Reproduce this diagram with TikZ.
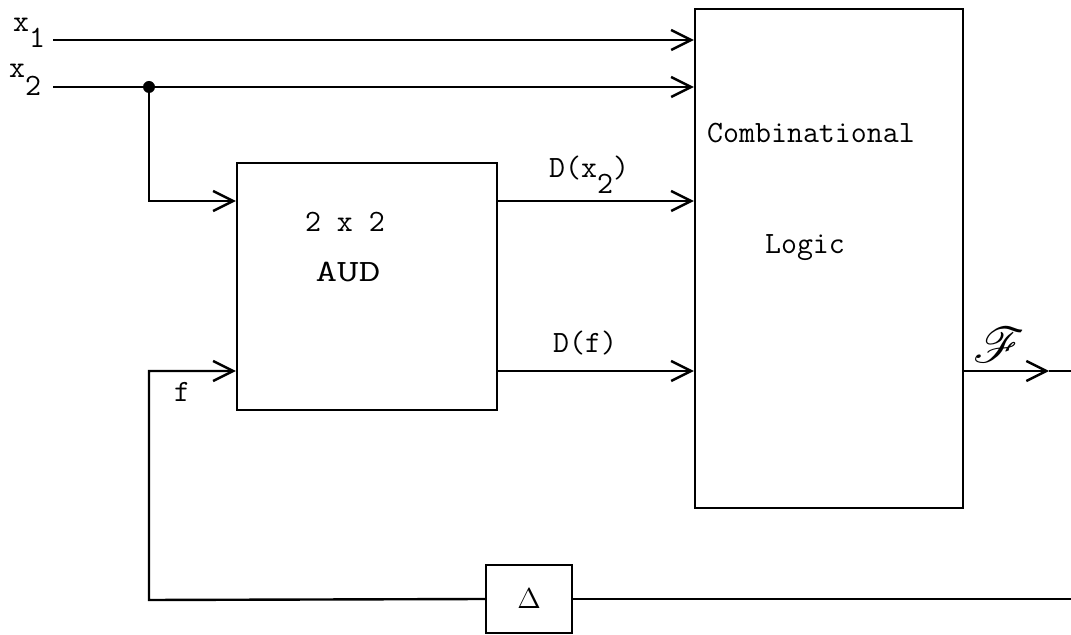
\documentclass[tikz,border=0pt]{standalone}
\usepackage{fontspec}
\usepackage{mathrsfs}
\usetikzlibrary{arrows.meta, positioning, calc}

\begin{document}
\begin{tikzpicture}[x=0.5pt, y=-0.5pt, line width=1.2pt,
  >={Straight Barb[length=10pt,width=10pt]},
  font=\ttfamily\fontsize{15.5}{18}\selectfont,
  blok/.style={draw, rectangle, inner sep=0pt},
  popis/.style={inner sep=0pt}]
  \useasboundingbox (0,0) rectangle (1071,635);

  % Kombinacni logika
  \node[blok, minimum width=134pt, minimum height=249.5pt] (logic) at (829,258.5) {};
  \node[popis] (comb) at (811,133) {Combinational};
  \node[popis] (logictxt) at (805,248) {Logic};

  % AUD
  \node[blok, minimum width=130pt, minimum height=123.5pt] (aud) at (367,286.5) {};
  \node[popis] (audsize) at (345,222) {2 x 2};
  \node[popis] (audtxt) at (348,272) {\scalebox{1.35}[1]{AUD}};

  % Zpozdeni
  \node[blok, minimum width=43pt, minimum height=34pt] (delay) at (529,599) {$\Delta$};

  % Vstupy
  \node[popis, anchor=base west] (x1) at (12,32) {x\raisebox{-8pt}{1}};
  \node[popis, anchor=base west] (x2) at (8,78) {x\raisebox{-9pt}{2}};
  \coordinate (x1in) at (53,40);
  \coordinate (x2in) at (53,87);
  \coordinate (split) at (149,87);
  \coordinate (dx) at (0,201);
  \coordinate (df) at (0,371);
  \coordinate (fbl) at (149,600);
  \coordinate (ftip) at (1049,371);
  \coordinate (fend) at (1071,371);

  \draw[->] (x1in) -- (logic.west |- x1in);
  \draw[->] (x2in) -- (logic.west |- x2in);
  \fill (split) circle (3pt);
  \draw[->] (split) |- (aud.west |- dx);

  % Vystupy AUD
  \draw[->] (aud.east |- dx) -- (logic.west |- dx);
  \node[popis, anchor=base west] (dxl) at (548,178) {D(x\raisebox{-8pt}{2})};
  \draw[->] (aud.east |- df) -- (logic.west |- df);
  \node[popis, anchor=base west] (dfl) at (552,353) {D(f)};

  % Vystup F
  \draw[->] (logic.east |- df) -- (ftip);
  \draw (ftip) -- (fend);
  \node[popis, font=\fontsize{23}{25}\selectfont] (F) at (999,345) {$\mathscr{F}$};

  % Zpetna vazba
  \draw (fend |- delay) -- (delay.east);
  \draw[->] (delay.west) -- (fbl) |- (aud.west |- df);
  \node[popis] (fl) at (182,392) {f};
\end{tikzpicture}
\end{document}
